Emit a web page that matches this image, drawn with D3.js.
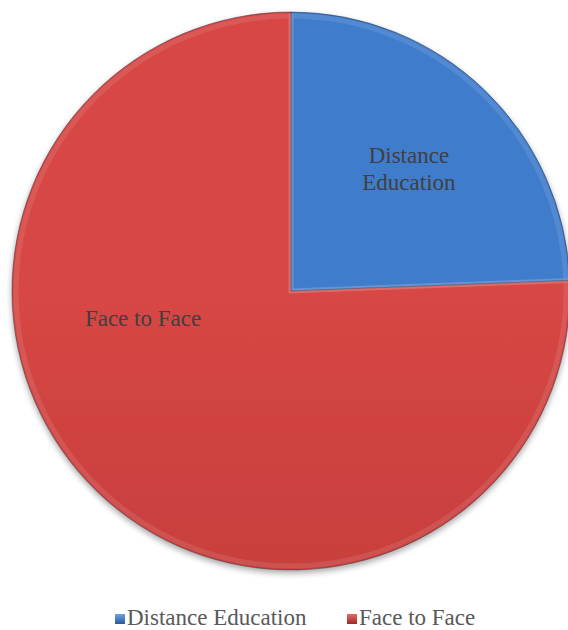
<!DOCTYPE html>
<html>
<head>
<meta charset="utf-8">
<script src="https://cdn.jsdelivr.net/npm/d3@7/dist/d3.min.js"></script>
<style>
html,body{margin:0;padding:0;background:#fff;}
svg{display:block;}
svg text{font-family:"Times New Roman","Liberation Serif",Times,"DejaVu Serif",serif !important;}
</style>
</head>
<body>
<svg id="chart" width="568" height="630"></svg>
<script>
const categories = ["Distance Education", "Face to Face"];
const values = [24.4, 75.6];
const labelLines = [["Distance", "Education"], ["Face to Face"]];

const W = 568, H = 630;
const cx = 291, cy = 291, R = 279;
const FONT = '"Times New Roman","Liberation Serif",Times,"DejaVu Serif",serif';
const svg = d3.select("#chart");
const defs = svg.append("defs");

const palette = [
  {top: "#3f7bcc", mid: "#3a6fbb", bot: "#3163a6", legA: "#6aa0e6", legB: "#2a5a9c"},
  {top: "#d64644", mid: "#c73f3d", bot: "#ad3331", legA: "#e66a68", legB: "#9c2a28"}
];

palette.forEach((p, i) => {
  const g = defs.append("linearGradient").attr("id", "g" + i)
    .attr("gradientUnits", "userSpaceOnUse")
    .attr("x1", 0).attr("y1", cy - R).attr("x2", 0).attr("y2", cy + R);
  g.append("stop").attr("offset", "0%").attr("stop-color", p.top);
  g.append("stop").attr("offset", "50%").attr("stop-color", p.mid);
  g.append("stop").attr("offset", "100%").attr("stop-color", p.bot);
  const lg = defs.append("linearGradient").attr("id", "lg" + i)
    .attr("x1", 0).attr("y1", 0).attr("x2", 0).attr("y2", 1);
  lg.append("stop").attr("offset", "0%").attr("stop-color", p.legA);
  lg.append("stop").attr("offset", "100%").attr("stop-color", p.legB);
});

const f = defs.append("filter").attr("id", "shadow")
  .attr("x", "-10%").attr("y", "-10%").attr("width", "120%").attr("height", "125%");
f.append("feGaussianBlur").attr("in", "SourceAlpha").attr("stdDeviation", 3).attr("result", "b");
f.append("feOffset").attr("in", "b").attr("dx", 0).attr("dy", 3).attr("result", "o");
f.append("feComponentTransfer").attr("in", "o").attr("result", "t")
  .append("feFuncA").attr("type", "linear").attr("slope", 0.35);
const fm = f.append("feMerge");
fm.append("feMergeNode").attr("in", "t");
fm.append("feMergeNode").attr("in", "SourceGraphic");

const pie = d3.pie().sort(null).value(d => d);
const arcs = pie(values);
const arc = d3.arc().innerRadius(0).outerRadius(R);
const inner = d3.arc().innerRadius(0).outerRadius(R - 4);

const g = svg.append("g").attr("transform", `translate(${cx},${cy})`);
const gp = g.append("g").attr("filter", "url(#shadow)");

gp.selectAll("path.slice").data(arcs).join("path")
  .attr("class", "slice")
  .attr("d", arc)
  .attr("fill", (d, i) => `url(#g${i})`)
  .attr("stroke", "#1f2a3a")
  .attr("stroke-opacity", 0.45)
  .attr("stroke-width", 1);

g.selectAll("path.bevel").data(arcs).join("path")
  .attr("class", "bevel")
  .attr("d", inner)
  .attr("fill", "none")
  .attr("stroke", "#ffffff")
  .attr("stroke-opacity", 0.1)
  .attr("stroke-width", 5);

const labelArc = d3.arc().innerRadius(170).outerRadius(170);
g.selectAll("text.lbl").data(arcs).join("text")
  .attr("class", "lbl")
  .attr("font-family", FONT)
  .style("font-family", FONT)
  .attr("font-size", 23)
  .attr("fill", "#404040")
  .attr("text-anchor", "middle")
  .each(function(d, i) {
    let x, y;
    if (i === 0) {
      const c = labelArc.centroid(d);
      x = c[0]; y = c[1];
    } else {
      x = -148; y = 27;
    }
    const lines = labelLines[i];
    const lh = 27;
    const t = d3.select(this);
    lines.forEach((ln, k) => {
      t.append("tspan").attr("x", x)
        .attr("y", y + (k - (lines.length - 1) / 2) * lh + 8)
        .text(ln);
    });
  });

const legend = svg.append("g");
const legX = [115, 347];
categories.forEach((c, i) => {
  legend.append("rect").attr("x", legX[i]).attr("y", 614).attr("width", 10).attr("height", 10)
    .attr("fill", `url(#lg${i})`);
  legend.append("text").attr("x", legX[i] + 12).attr("y", 625)
    .attr("font-family", FONT)
    .style("font-family", FONT)
    .attr("font-size", 23).attr("fill", "#595959")
    .text(c);
});
</script>
</body>
</html>
